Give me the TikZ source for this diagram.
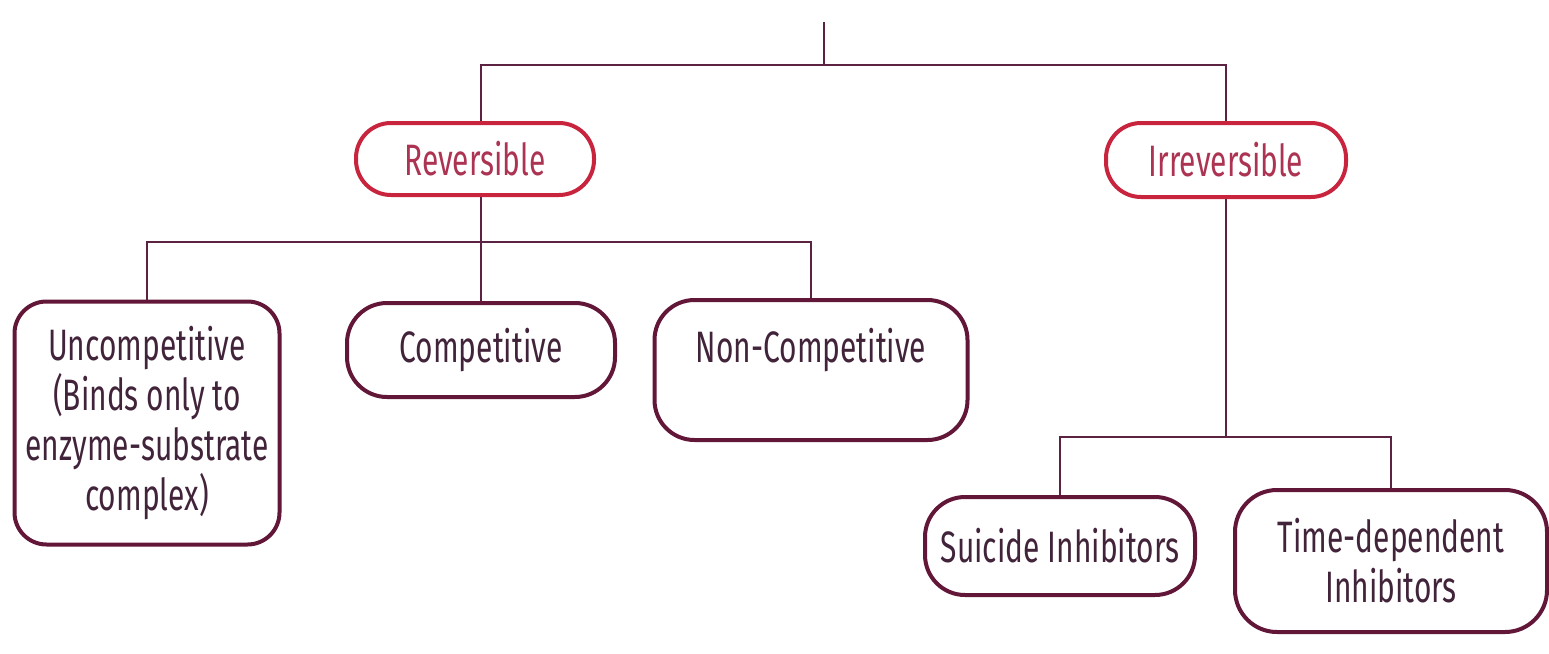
\documentclass[tikz,border=0pt]{standalone}
\usepackage{fontspec}
\setmainfont{Fira Sans}[FakeStretch=0.68]
\usepackage{tikz}
\usetikzlibrary{positioning, calc}

\definecolor{linkcol}{RGB}{92,34,66}
\definecolor{boxcol}{RGB}{98,22,56}
\definecolor{redcol}{RGB}{200,36,62}
\definecolor{redtext}{RGB}{172,52,82}
\definecolor{textcol}{RGB}{66,36,58}

\begin{document}
\begin{tikzpicture}[x=1pt, y=-1pt,
  box/.style={draw=boxcol, line width=4pt, rounded corners=32pt, align=center, inner sep=0pt,
    text=textcol, font=\fontsize{44}{50}\selectfont},
  kind/.style={box, draw=redcol, text=redtext, rounded corners=35pt},
  link/.style={draw=linkcol, line width=2.2pt}]
\useasboundingbox (0,0) rectangle (1549,653);
\coordinate (top) at (824,22);
\coordinate (j1) at (824,65);
\coordinate (j2) at (481,242);
\coordinate (j3) at (1225,437);
\node[kind, minimum width=238pt, minimum height=72pt] (rev) at (475,159) {Reversible};
\node[kind, minimum width=240pt, minimum height=74pt] (irr) at (1226,160) {Irreversible};
\node[box, minimum width=265pt, minimum height=243pt] (uncomp) at (147,423)
  {Uncompetitive\\(Binds only to\\enzyme-substrate\\complex)};
\node[box, minimum width=268pt, minimum height=94pt, rounded corners=40pt] (comp) at (481,350) {Competitive};
\node[box, minimum width=313pt, minimum height=140pt, rounded corners=40pt] (noncomp) at (811,370)
  {Non-Competitive\\\mbox{}};
\node[box, minimum width=270pt, minimum height=98pt, rounded corners=40pt] (suic) at (1060,546) {Suicide Inhibitors};
\node[box, minimum width=312pt, minimum height=142pt, rounded corners=42pt] (time) at (1391,561)
  {Time-dependent\\Inhibitors};
\draw[link] (top) -- (j1);
\draw[link] (comp.north |- rev.north) -- (comp.north |- j1) -- (irr.north |- j1) -- (irr.north);
\draw[link] (comp.north |- rev.south) -- (comp.north);
\draw[link] (uncomp.north) -- (uncomp.north |- j2) -- (noncomp.north |- j2) -- (noncomp.north);
\draw[link] (irr.south) -- (irr.south |- j3);
\draw[link] (suic.north) -- (suic.north |- j3) -- (time.north |- j3) -- (time.north);
\end{tikzpicture}
\end{document}
